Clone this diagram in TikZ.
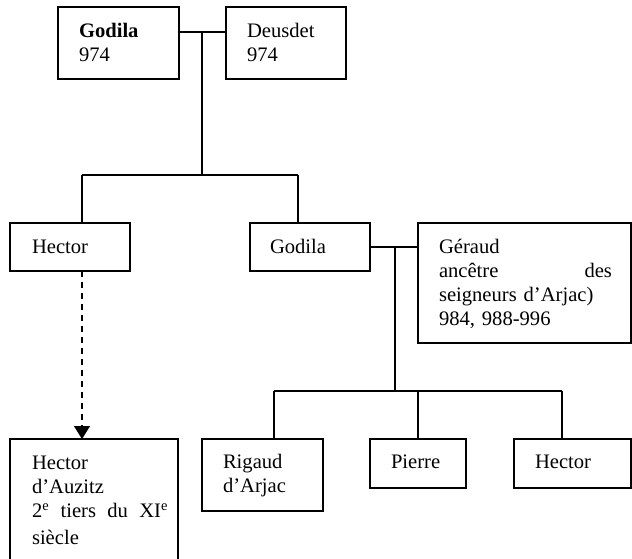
\documentclass[tikz,border=0pt]{standalone}
\usepackage{fontspec}
\setmainfont{Liberation Serif}
\usetikzlibrary{arrows.meta}
\begin{document}
\begin{tikzpicture}[x=1pt,y=-1pt,
  boxs/.style={draw, rectangle, line width=1.2pt, inner sep=0pt, outer sep=0pt, anchor=north west},
  txt/.style={anchor=base west, inner sep=0pt, outer sep=0pt, align=left, text width=100pt, font=\fontsize{20.6}{24.3}\selectfont},
  link/.style={line width=1.2pt},
  dashlink/.style={line width=1.2pt, dash pattern=on 6pt off 5pt, -{Triangle[width=16pt,length=13pt]}}]
\useasboundingbox (0,0) rectangle (632,558);
% boxes
\node[boxs, minimum width=121pt, minimum height=72pt] (godila) at (58,7) {};
\node[boxs, minimum width=120pt, minimum height=72pt] (deusdet) at (226,7) {};
\node[boxs, minimum width=120pt, minimum height=48pt] (hector) at (10,223) {};
\node[boxs, minimum width=120pt, minimum height=48pt] (godila2) at (250,223) {};
\node[boxs, minimum width=213pt, minimum height=120pt] (geraud) at (418,223) {};
\node[boxs, minimum width=168pt, minimum height=140pt] (hectorA) at (10,439) {};
\node[boxs, minimum width=121pt, minimum height=72pt] (rigaud) at (202,439) {};
\node[boxs, minimum width=96pt, minimum height=49pt] (pierre) at (370,439) {};
\node[boxs, minimum width=117pt, minimum height=49pt] (hector3) at (514,439) {};
% texts
\node[txt] (tgodila) at (79,37) {\textbf{Godila}\\974};
\node[txt] (tdeusdet) at (247,37) {Deusdet\\974};
\node[txt] (thector) at (32,253) {Hector};
\node[txt] (tgodila2) at (270,253) {Godila};
\node[txt, text width=173pt] (tgeraud) at (439,253) {Géraud\\ancêtre\hfill des\\seigneurs d’Arjac)\\984, 988-996};
\node[txt, text width=136pt] (thectorA) at (32,469) {Hector\\d’Auzitz\\2\textsuperscript{e}\hfill tiers\hfill du\hfill XI\textsuperscript{e}\\[3pt]siècle};
\node[txt] (trigaud) at (223,468) {Rigaud\\d’Arjac};
\node[txt, text width=70pt] (tpierre) at (391,468) {Pierre};
\node[txt, text width=80pt] (thector3) at (535,468) {Hector};
% junctions
\coordinate (j1) at (202,32);
\coordinate (j2) at (202,175);
\coordinate (j3) at (395,247);
\coordinate (j4) at (395,391);
% connectors
\draw[link] (godila.east |- j1) -- (deusdet.west |- j1);
\draw[link] (j1) -- (j2);
\draw[link] (82,175) -- (298,175);
\draw[link] (82,175) -- (hector.north -| 82,0);
\draw[link] (298,175) -- (godila2.north -| 298,0);
\draw[link] (godila2.east) -- (geraud.west |- godila2.east);
\draw[link] (j3) -- (j4);
\draw[link] (274,391) -- (562,391);
\draw[link] (274,391) -- (rigaud.north -| 274,0);
\draw[link] (418,391) -- (pierre.north);
\draw[link] (562,391) -- (hector3.north -| 562,0);
\draw[dashlink] (hector.south -| 82,0) -- (hectorA.north -| 82,0);
\end{tikzpicture}
\end{document}
